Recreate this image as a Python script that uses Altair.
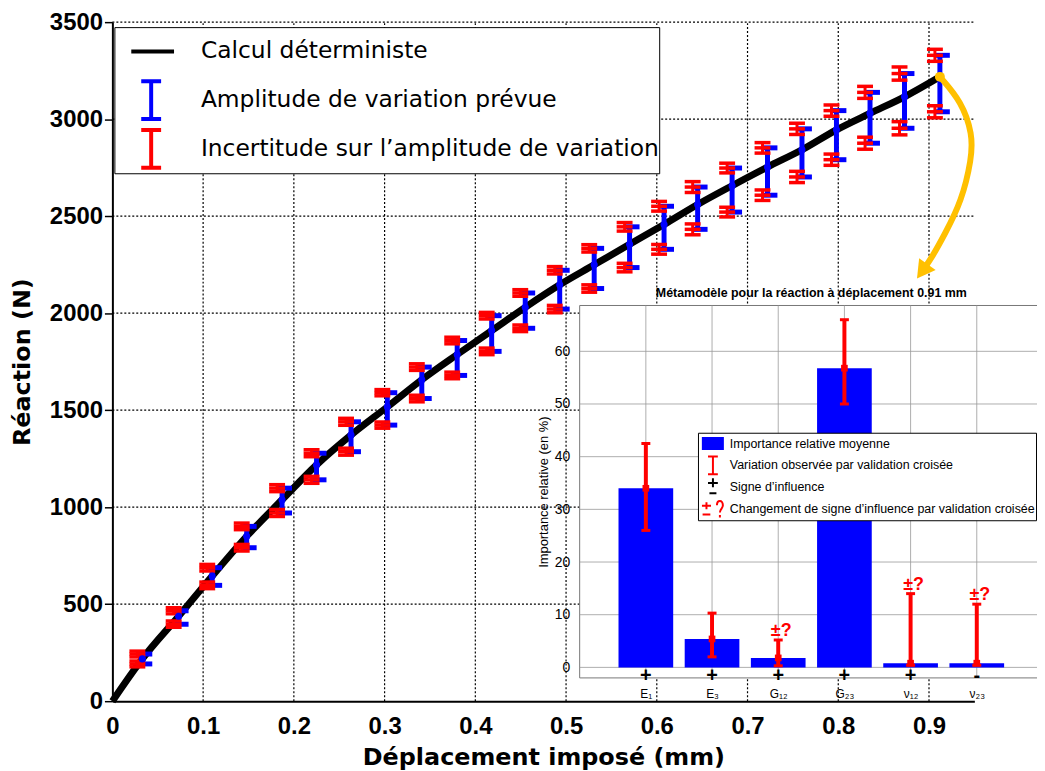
import json
import altair as alt
import pandas as pd

# ---------------- main chart values ----------------
x_mm = [0.033, 0.073, 0.110, 0.148, 0.187, 0.225, 0.263, 0.303, 0.341, 0.380, 0.418, 0.455,
        0.493, 0.531, 0.570, 0.608, 0.645, 0.683, 0.722, 0.760, 0.798, 0.835, 0.873, 0.912]
reaction = [218, 438, 645, 850, 1038, 1218, 1372, 1517, 1657, 1787, 1910, 2030,
            2146, 2249, 2355, 2457, 2560, 2657, 2753, 2842, 2945, 3030, 3115, 3218]
ampl_low = [192, 397, 597, 791, 970, 1141, 1286, 1423, 1560, 1679, 1803, 1922,
            2021, 2127, 2235, 2329, 2432, 2521, 2608, 2702, 2791, 2876, 2953, 3038]
ampl_high = [243, 466, 688, 901, 1098, 1278, 1440, 1590, 1722, 1859, 1987, 2104,
             2221, 2334, 2445, 2551, 2650, 2748, 2852, 2950, 3044, 3138, 3235, 3329]
incert = [15, 16, 17, 17, 18, 18, 18, 16, 17, 17, 17, 17,
          19, 19, 22, 25, 28, 25, 27, 29, 29, 31, 34, 31]

x_ticks = [0, 0.1, 0.2, 0.3, 0.4, 0.5, 0.6, 0.7, 0.8, 0.9]
y_ticks = [0, 500, 1000, 1500, 2000, 2500, 3000, 3500]

arrow_x = [0.912, 0.936, 0.948, 0.947, 0.936, 0.9175, 0.903, 0.8925]
arrow_y = [3218, 3090, 2921, 2797, 2577, 2408, 2285, 2216]

legend_main = ["Calcul déterministe", "Amplitude de variation prévue",
               "Incertitude sur l’amplitude de variation"]

# ---------------- inset values ----------------
params = ["E₁", "E₃", "G₁₂", "G₂₃", "ν₁₂", "ν₂₃"]
importance = [34.0, 5.4, 1.8, 56.8, 0.8, 0.8]
cv_low = [26.0, 2.0, 0.3, 50.0, 0.4, 0.4]
cv_high = [42.5, 10.3, 5.2, 66.0, 14.0, 12.0]
signs = ["+", "+", "+", "+", "+", "-"]
sign_change = [False, False, True, False, True, True]
inset_y_ticks = [0, 10, 20, 30, 40, 50, 60]
legend_inset = ["Importance relative moyenne", "Variation observée par validation croisée",
                "Signe d’influence", "Changement de signe d’influence par validation croisée"]
inset_title = "Métamodèle pour la réaction à déplacement 0.91 mm"

# ---------------- styles / scales ----------------
W, H = 924, 683
BLUE, RED, GOLD = "#0000FF", "#FF0000", "#FFC000"

SX = alt.Scale(domain=[0, 0.95], range=[0, 867], nice=False, zero=False)
SY = alt.Scale(domain=[0, 3500], nice=False, zero=False)
AX = alt.Axis(orient="bottom", values=x_ticks, format="~g", grid=False, ticks=False,
              domainColor="black", domainWidth=2, zindex=1,
              labelFont="Liberation Sans", labelFontSize=24, labelFontWeight="bold",
              labelColor="black", labelPadding=14, labelFlush=False, labelOverlap=False,
              title="Déplacement imposé (mm)", titleFont="DejaVu Sans", titleFontSize=24,
              titleFontWeight="bold", titleColor="black", titleBaseline="alphabetic", titleY=64)
AY = alt.Axis(orient="left", values=y_ticks, format="d", grid=False, tickSize=8,
              tickColor="black", tickWidth=1.5, domainColor="black", domainWidth=2, zindex=1,
              labelFont="Liberation Sans", labelFontSize=24, labelFontWeight="bold",
              labelColor="black", labelPadding=2, labelOverlap=False,
              title="Réaction (N)", titleFont="DejaVu Sans", titleFontSize=24,
              titleFontWeight="bold", titleColor="black", titlePadding=15)


def MX(f):
    return alt.X(f, type="quantitative", scale=SX, axis=AX)


def MY(f):
    return alt.Y(f, type="quantitative", scale=SY, axis=AY)


def DX(v):
    return alt.X(datum=v, type="quantitative", scale=SX, axis=AX)


def DY(v):
    return alt.Y(datum=v, type="quantitative", scale=SY, axis=AY)


main_df = pd.DataFrame({"x": x_mm, "c": reaction, "lo": ampl_low, "hi": ampl_high, "r": incert})
curve_df = pd.DataFrame({"x": [0.0] + x_mm, "y": [0] + reaction})

vgrid = alt.Chart(pd.DataFrame({"gx": x_ticks[1:]})).mark_rule(
    color="black", strokeWidth=1.2, strokeDash=[2, 2]).encode(
    x=MX("gx"), y=DY(0), y2=alt.Y2(datum=3500))
hgrid = alt.Chart(pd.DataFrame({"gy": y_ticks[1:]})).mark_rule(
    color="black", strokeWidth=1.2, strokeDash=[2, 2]).encode(
    y=MY("gy"), x=DX(0), x2=alt.X2(datum=0.95))

curve = alt.Chart(curve_df).mark_line(color="black", strokeWidth=7, interpolate="monotone").encode(
    x=MX("x"), y=MY("y"))

blue_stem = alt.Chart(main_df).mark_rule(color=BLUE, strokeWidth=5).encode(
    x=MX("x"), y=MY("lo"), y2=alt.Y2("hi"))
blue_caps = alt.Chart(main_df).transform_fold(["lo", "hi"], as_=["k", "v"]).mark_tick(
    orient="horizontal", size=14, thickness=5, color=BLUE, opacity=1, xOffset=3).encode(
    x=MX("x"), y=MY("v:Q"))
red_base = alt.Chart(main_df).transform_fold(["lo", "hi"], as_=["k", "v"]).transform_calculate(
    v1="datum.v - datum.r", v2="datum.v + datum.r")
red_stem = red_base.mark_rule(color=RED, strokeWidth=3, xOffset=-5).encode(
    x=MX("x"), y=MY("v1:Q"), y2=alt.Y2("v2:Q"))
red_caps = red_base.transform_fold(["v1", "v", "v2"], as_=["kk", "w"]).mark_tick(
    orient="horizontal", size=16, thickness=3.5, color=RED, opacity=1, xOffset=-5).encode(
    x=MX("x"), y=MY("w:Q"))
blue_dots = alt.Chart(main_df).mark_circle(size=50, color=BLUE, opacity=1).encode(
    x=MX("x"), y=MY("c"))

arrow_df = pd.DataFrame({"x": arrow_x, "y": arrow_y, "i": list(range(len(arrow_x)))})
arrow = alt.Chart(arrow_df).mark_line(color=GOLD, strokeWidth=6, interpolate="basis",
                                      strokeCap="round").encode(x=MX("x"), y=MY("y"), order="i:Q")
arrow_head = alt.Chart(arrow_df.tail(1)).mark_point(
    shape="triangle-up", angle=216, size=420, filled=True, color=GOLD, opacity=1).encode(
    x=MX("x"), y=MY("y"))
arrow_dot = alt.Chart(arrow_df.head(1)).mark_circle(size=100, color=GOLD, opacity=1).encode(
    x=MX("x"), y=MY("y"))

LM = alt.Legend(title=None, orient="none", legendX=2, legendY=5, direction="vertical",
                fillColor="white", strokeColor="black", padding=0, cornerRadius=0,
                symbolSize=2500, symbolStrokeWidth=4, symbolFillColor="transparent",
                labelFont="DejaVu Sans", labelFontSize=23.5, labelColor="black", labelLimit=1000,
                labelOffset=33, rowPadding=0, clipHeight=49, zindex=1)
main_paths = ["M-0.4,0H1.32",
              "M0,-0.76H0.8M0.4,-0.76V0.76M0,0.76H0.8",
              "M0,-0.76H0.8M0.4,-0.76V0.76M0,0.76H0.8"]
main_legend = alt.Chart(pd.DataFrame({"serie": legend_main})).transform_filter("false").mark_point(
    filled=False, opacity=1, size=2500, strokeWidth=4).encode(
    stroke=alt.Stroke("serie:N", scale=alt.Scale(domain=legend_main, range=["black", BLUE, RED]), legend=LM),
    shape=alt.Shape("serie:N", scale=alt.Scale(domain=legend_main, range=main_paths), legend=LM))

main = alt.layer(vgrid, hgrid, curve, blue_stem, blue_caps, red_stem, red_caps, blue_dots,
                 arrow, arrow_head, arrow_dot, main_legend)

# ---------------- inset ----------------
ISX = alt.Scale(domain=[0, 7], range=[465, 941], nice=False, zero=False)
ISY = alt.Scale(domain=[-2, 68.7], range=[659.6, 285], nice=False, zero=False)
label_expr = json.dumps([""] + params, ensure_ascii=False) + "[datum.value]"
IAX = alt.Axis(orient="bottom", offset=-23, values=list(range(1, len(params) + 1)),
               labelExpr=label_expr, grid=False, ticks=False, domain=False,
               labelFont="Liberation Sans", labelFontSize=12, labelColor="black",
               labelPadding=10, labelFlush=False, labelOverlap=False, title="")
IAY = alt.Axis(orient="left", offset=-465, values=inset_y_ticks, grid=False, ticks=False,
               domain=False, labelFont="Liberation Sans", labelFontSize=14, labelColor="black",
               labelPadding=5, labelOverlap=False, title="Importance relative (en %)",
               titleFont="Liberation Sans", titleFontSize=13, titleFontWeight="normal",
               titleColor="black", titlePadding=4)


def IX(f):
    return alt.X(f, type="quantitative", scale=ISX, axis=IAX)


def IY(f):
    return alt.Y(f, type="quantitative", scale=ISY, axis=IAY)


def IDX(v):
    return alt.X(datum=v, type="quantitative", scale=ISX, axis=IAX)


def IDY(v):
    return alt.Y(datum=v, type="quantitative", scale=ISY, axis=IAY)


inset_df = pd.DataFrame({"param": params, "pos": list(range(1, len(params) + 1)),
                         "imp": importance, "lo": cv_low, "hi": cv_high,
                         "sign": signs, "change": sign_change})

bg = alt.Chart(pd.DataFrame({"a": [0]})).mark_rect(fill="white", stroke="#777", strokeWidth=1).encode(
    x=IDX(0), x2=alt.X2(datum=7), y=IDY(-2), y2=alt.Y2(datum=68.7))
igv = alt.Chart(inset_df).mark_rule(color="#999", strokeWidth=0.8).encode(
    x=IX("pos"), y=IDY(-2), y2=alt.Y2(datum=68.7))
igh = alt.Chart(pd.DataFrame({"gy": inset_y_ticks})).mark_rule(color="#999", strokeWidth=0.8).encode(
    y=IY("gy"), x=IDX(0), x2=alt.X2(datum=7))
bars = alt.Chart(inset_df).mark_bar(size=55, color=BLUE, opacity=1).encode(
    x=IX("pos"), y=IY("imp"), y2=alt.Y2(datum=0))
err = alt.Chart(inset_df).mark_rule(color=RED, strokeWidth=4).encode(
    x=IX("pos"), y=IY("lo"), y2=alt.Y2("hi"))
err_caps = alt.Chart(inset_df).transform_fold(["lo", "hi"], as_=["k", "v"]).mark_tick(
    orient="horizontal", size=9, thickness=3, color=RED, opacity=1).encode(
    x=IX("pos"), y=IY("v:Q"))
err_mark = alt.Chart(inset_df).mark_square(size=45, color=RED, opacity=1).encode(
    x=IX("pos"), y=IY("imp"))
sign_txt = alt.Chart(inset_df).mark_text(font="Liberation Sans", fontSize=20, fontWeight="bold",
                                         color="black", baseline="middle", dy=9).encode(
    x=IX("pos"), y=IDY(0), text="sign:N")
change_txt = alt.Chart(inset_df).transform_filter("datum.change").mark_text(
    font="Liberation Sans", fontSize=18, fontWeight="bold", color=RED, baseline="alphabetic",
    dx=3, dy=-4, text="±?").encode(x=IX("pos"), y=IY("hi"))
title_txt = alt.Chart(pd.DataFrame({"t": [inset_title]})).mark_text(
    font="Liberation Sans", fontSize=12.5, fontWeight="bold", color="black", baseline="middle").encode(
    x=IDX(3.5), y=IDY(71), text="t:N")

LI = alt.Legend(title=None, orient="none", legendX=589, legendY=413, direction="vertical",
                fillColor="white", strokeColor="black", padding=0, cornerRadius=0,
                symbolSize=676, symbolStrokeWidth=2, labelFont="Liberation Sans",
                labelFontSize=12.5, labelColor="black", labelLimit=1000, labelOffset=4,
                rowPadding=0, clipHeight=21.7, zindex=1)
inset_paths = ["M-0.7,-0.42H0.85V0.42H-0.7Z",
               "M-0.3,-0.69H0.46M0.08,-0.69V0.69M-0.3,0.69H0.46",
               "M0.08,-0.69V0.0M-0.3,-0.33H0.46M-0.19,0.46H0.35",
               "M-0.42,-0.54V0M-0.77,-0.27H-0.07M-0.72,0.42H-0.12"
               "M0.39,-0.3C0.39,-0.75 0.85,-0.75 0.85,-0.3C0.85,-0.05 0.62,0 0.62,0.25M0.62,0.45V0.65"]
inset_legend = alt.Chart(pd.DataFrame({"cle": legend_inset})).transform_filter("false").mark_point(
    filled=True, opacity=1, size=676, strokeWidth=2).encode(
    color=alt.Color("cle:N", scale=alt.Scale(domain=legend_inset,
                                             range=[BLUE, "transparent", "transparent", "transparent"]),
                    legend=LI),
    stroke=alt.Stroke("cle:N", scale=alt.Scale(domain=legend_inset, range=[BLUE, RED, "black", RED]),
                      legend=LI),
    shape=alt.Shape("cle:N", scale=alt.Scale(domain=legend_inset, range=inset_paths), legend=LI))

inset = alt.layer(bg, igv, igh, bars, err, err_caps, err_mark, sign_txt, change_txt, title_txt,
                  inset_legend)

chart = alt.layer(main, inset).resolve_scale(
    x="independent", y="independent", color="independent", stroke="independent", shape="independent"
).properties(
    width=W, height=H,
    autosize=alt.AutoSizeParams(type="none"),
    padding={"left": 105, "top": 12, "right": 6, "bottom": 68},
    background="white",
).configure_view(stroke="transparent")

chart.save("out.html", embed_options={"renderer": "svg", "actions": False})
